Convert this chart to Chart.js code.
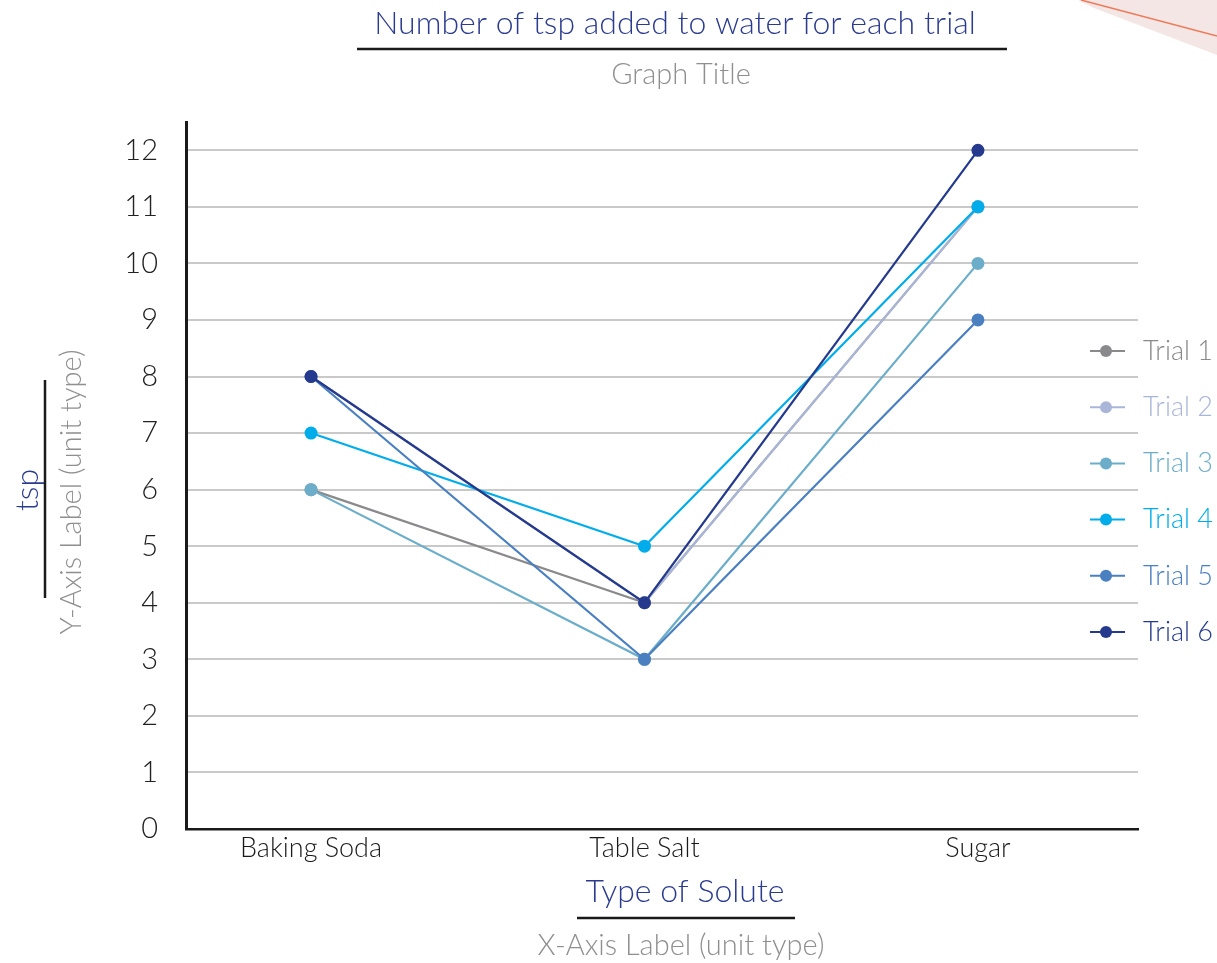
<!DOCTYPE html>
<html>
<head>
<meta charset="utf-8">
<script src="https://cdn.jsdelivr.net/npm/chart.js@4.4.1/dist/chart.umd.min.js"></script>
<style>
  html, body { margin: 0; padding: 0; background: #fff; }
  #wrap { width: 1217px; height: 963px; position: relative; }
</style>
</head>
<body>
<div id="wrap"><canvas id="chart"></canvas></div>
<script>
// Solutes on the x axis, tsp per trial
const solutes = ['Baking Soda', 'Table Salt', 'Sugar'];
const trialNames = ['Trial 1', 'Trial 2', 'Trial 3', 'Trial 4', 'Trial 5', 'Trial 6'];
const trial1 = [6, 4, 11];
const trial2 = [8, 4, 11];
const trial3 = [6, 3, 10];
const trial4 = [7, 5, 11];
const trial5 = [8, 3, 9];
const trial6 = [8, 4, 12];
const yTicks = [0, 1, 2, 3, 4, 5, 6, 7, 8, 9, 10, 11, 12];

const trialColors = ['#8a8a8c', '#aab6d8', '#6cadc9', '#00adea', '#4a7fc0', '#253a8d'];
const NAVY = '#2b3b8f';
const GREY = '#8f8f8f';
const FONT = "Lato, 'Open Sans', sans-serif";

const series = [trial1, trial2, trial3, trial4, trial5, trial6];

const datasets = series.map((vals, i) => ({
  label: trialNames[i],
  data: vals.map((v, j) => ({ x: j, y: v })),
  borderColor: trialColors[i],
  backgroundColor: trialColors[i],
  pointBackgroundColor: trialColors[i],
  pointBorderWidth: 0,
  pointRadius: 6.5,
  borderWidth: 2.2,
  tension: 0,
  // later trials sit on top
  order: series.length - 1 - i
}));

// captions, underlines and the side legend
const decorations = {
  id: 'decorations',
  afterDraw(chart) {
    const ctx = chart.ctx;
    ctx.save();

    // corner of a sheet of paper peeking in at the top right
    ctx.fillStyle = '#f4e6e4';
    ctx.beginPath();
    ctx.moveTo(1078, 0);
    ctx.lineTo(1217, 0);
    ctx.lineTo(1217, 55);
    ctx.lineTo(1094, 8);
    ctx.closePath();
    ctx.fill();
    ctx.strokeStyle = '#ee7a5a';
    ctx.lineWidth = 1.5;
    ctx.beginPath();
    ctx.moveTo(1081, 0);
    ctx.lineTo(1217, 36);
    ctx.stroke();

    ctx.textAlign = 'center';
    ctx.textBaseline = 'middle';

    // title block
    ctx.font = '300 32px ' + FONT;
    ctx.fillStyle = NAVY;
    ctx.fillText('Number of tsp added to water for each trial', 675, 24);
    ctx.strokeStyle = '#1a1a1a';
    ctx.lineWidth = 2.5;
    ctx.beginPath();
    ctx.moveTo(357, 49);
    ctx.lineTo(1007, 49);
    ctx.stroke();
    ctx.font = '300 29px ' + FONT;
    ctx.fillStyle = GREY;
    ctx.fillText('Graph Title', 681, 75);

    // x axis caption
    ctx.font = '300 32px ' + FONT;
    ctx.fillStyle = NAVY;
    ctx.fillText('Type of Solute', 685, 892);
    ctx.beginPath();
    ctx.moveTo(577, 918);
    ctx.lineTo(795, 918);
    ctx.stroke();
    ctx.font = '300 29px ' + FONT;
    ctx.fillStyle = GREY;
    ctx.fillText('X-Axis Label (unit type)', 681, 946);

    // y axis caption
    ctx.save();
    ctx.translate(28, 490);
    ctx.rotate(-Math.PI / 2);
    ctx.font = '300 32px ' + FONT;
    ctx.fillStyle = NAVY;
    ctx.fillText('tsp', 0, 0);
    ctx.restore();
    ctx.beginPath();
    ctx.moveTo(45, 380);
    ctx.lineTo(45, 598);
    ctx.stroke();
    ctx.save();
    ctx.translate(72, 492);
    ctx.rotate(-Math.PI / 2);
    ctx.font = '300 29px ' + FONT;
    ctx.fillStyle = GREY;
    ctx.fillText('Y-Axis Label (unit type)', 0, 0);
    ctx.restore();

    // legend: line with a dot, then coloured label
    ctx.textAlign = 'left';
    ctx.font = '300 27px ' + FONT;
    chart.data.datasets.forEach((ds, i) => {
      const y = 351 + i * 56.2;
      ctx.strokeStyle = ds.borderColor;
      ctx.lineWidth = 2;
      ctx.beginPath();
      ctx.moveTo(1090, y);
      ctx.lineTo(1125, y);
      ctx.stroke();
      ctx.fillStyle = ds.borderColor;
      ctx.beginPath();
      ctx.arc(1106, y, 6, 0, Math.PI * 2);
      ctx.fill();
      ctx.fillText(ds.label, 1143, y);
    });

    ctx.restore();
  }
};

new Chart(document.getElementById('chart'), {
  type: 'line',
  data: { datasets },
  options: {
    responsive: true,
    maintainAspectRatio: false,
    animation: false,
    layout: { padding: { top: 122, right: 79, bottom: 94, left: 0 } },
    plugins: {
      legend: { display: false },
      title: { display: false },
      tooltip: { enabled: false }
    },
    scales: {
      x: {
        type: 'linear',
        min: -0.375,
        max: 2.48,
        afterBuildTicks: scale => {
          scale.ticks = solutes.map((s, i) => ({ value: i }));
        },
        afterFit: scale => { scale.height = 40; },
        grid: { display: false, drawTicks: false },
        border: { color: '#1a1a1a', width: 2.5 },
        ticks: {
          padding: 3,
          color: '#1a1a1a',
          font: { family: FONT, size: 27, weight: 300 },
          callback: v => solutes[v]
        }
      },
      y: {
        min: 0,
        max: 12.5,
        afterBuildTicks: scale => {
          scale.ticks = yTicks.map(v => ({ value: v }));
        },
        afterFit: scale => { scale.width = 186; },
        grid: { color: '#c9c9c9', lineWidth: 2, drawTicks: false },
        border: { color: '#1a1a1a', width: 3 },
        ticks: {
          padding: 28,
          color: '#222',
          font: { family: FONT, size: 29, weight: 300 }
        }
      }
    }
  },
  plugins: [decorations]
});
</script>
</body>
</html>
